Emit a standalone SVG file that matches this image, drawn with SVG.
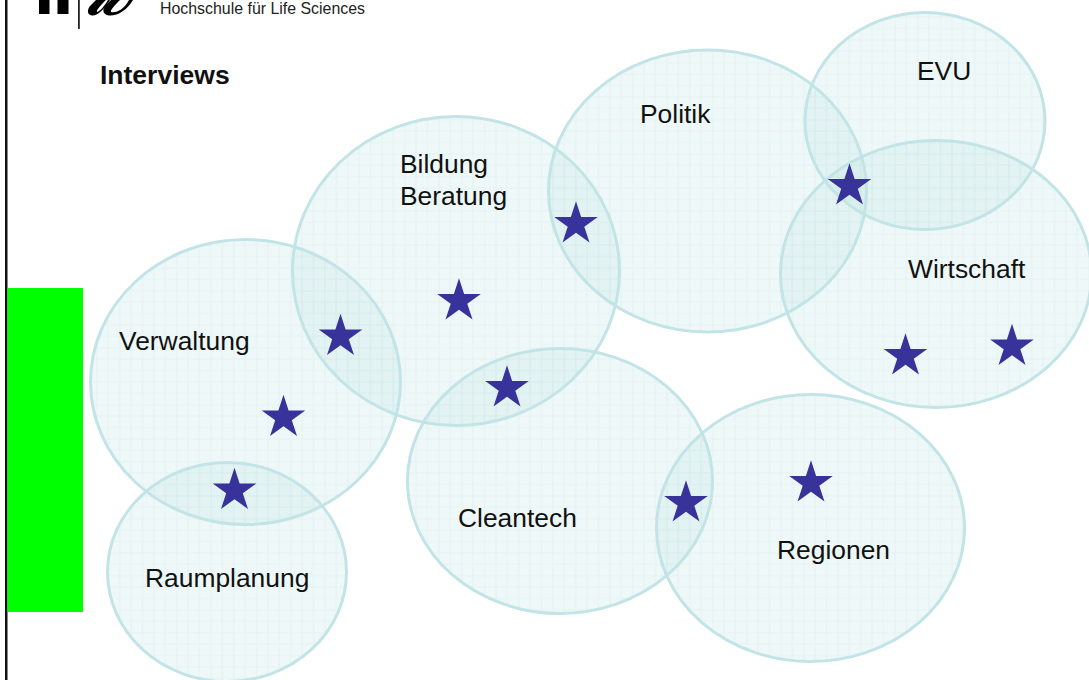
<svg xmlns="http://www.w3.org/2000/svg" width="1089" height="680" viewBox="0 0 1089 680">
<style>
.t{font-family:"Liberation Sans",Arial,sans-serif;font-size:26.400px;fill:#111}
.b{fill:url(#g);stroke:#c3e4e7;stroke-width:3}
.s{fill:#38339b}
</style>
<defs>
<pattern id="g" width="11.400" height="11.400" patternUnits="userSpaceOnUse">
<rect width="11.400" height="11.400" fill="#c4e4e6" fill-opacity=".27"/>
<path d="M5.700 0V11.400M0 5.700H11.400" stroke="#c8e6e4" stroke-opacity=".3" stroke-width="1"/>
</pattern>
<polygon id="star" class="s" points="0,-22.800 5.120,-7 21.800,-7 8.300,2.700 13.500,18.400 0,8.700 -13.500,18.400 -8.300,2.700 -21.800,-7 -5.120,-7"/>
</defs>
<rect width="1089" height="680" fill="#fff"/>
<rect x="5" y="0" width="2.500" height="680" fill="#111"/>
<rect x="7.500" y="288" width="75.500" height="324" fill="#00ff00"/>
<g id="logo">
<rect x="39" y="0" width="10.500" height="14" fill="#000"/>
<rect x="57.500" y="0" width="11" height="14" fill="#000"/>
<rect x="78" y="0" width="1.800" height="29" fill="#222"/>
<path d="M96 0L106 0C101 5 96 10 97 12C99 12 104 7 108 0L110 0C105 8 98 16 92 15.500C87 15 87 10 90 6Z" fill="#000"/>
<path d="M111 0L120 0C115 5 110 10 111 12C115 13 123 11 129 0L133 0C127 10 118 16 109 15.500C103 15 102 10 105 6Z" fill="#000"/>
<text x="160" y="14" style="font-family:'Liberation Sans',Arial,sans-serif;font-size:15.900px;fill:#222" textLength="205" lengthAdjust="spacingAndGlyphs">Hochschule für Life Sciences</text>
</g>
<text id="title" x="100" y="84" style="font-family:'Liberation Sans',Arial,sans-serif;font-size:26.500px;font-weight:bold;fill:#111">Interviews</text>
<g id="connectors"/>
<g id="node-bildung"><ellipse class="b" cx="456" cy="271" rx="163.500" ry="154.500"/><text class="t" x="400" y="173">Bildung</text><text class="t" x="400" y="205">Beratung</text></g>
<g id="node-politik"><ellipse class="b" cx="707.500" cy="191" rx="159" ry="141"/><text class="t" x="640" y="123">Politik</text></g>
<g id="node-evu"><ellipse class="b" cx="925" cy="121" rx="120" ry="108.500"/><text class="t" x="917" y="80">EVU</text></g>
<g id="node-wirtschaft"><ellipse class="b" cx="936" cy="274" rx="155.500" ry="133.500"/><text class="t" x="908" y="278">Wirtschaft</text></g>
<g id="node-verwaltung"><ellipse class="b" cx="245.500" cy="382" rx="155" ry="142.500"/><text class="t" x="119" y="350">Verwaltung</text></g>
<g id="node-raumplanung"><ellipse class="b" cx="227" cy="572" rx="119.500" ry="109.500"/><text class="t" x="145" y="587">Raumplanung</text></g>
<g id="node-cleantech"><ellipse class="b" cx="560" cy="481" rx="152.500" ry="132.500"/><text class="t" x="458" y="527">Cleantech</text></g>
<g id="node-regionen"><ellipse class="b" cx="810.500" cy="528" rx="154" ry="133.500"/><text class="t" x="777" y="559">Regionen</text></g>
<g id="stars">
<use href="#star" x="340.500" y="336.600"/>
<use href="#star" x="459" y="301"/>
<use href="#star" x="507" y="388"/>
<use href="#star" x="576" y="224"/>
<use href="#star" x="849.500" y="186"/>
<use href="#star" x="283.500" y="417.500"/>
<use href="#star" x="234.500" y="490.500"/>
<use href="#star" x="686" y="503"/>
<use href="#star" x="811" y="483"/>
<use href="#star" x="905.500" y="356"/>
<use href="#star" x="1012" y="346.500"/>
</g>
</svg>
